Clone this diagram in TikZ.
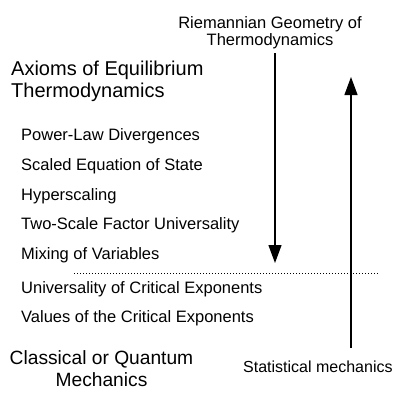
\documentclass[tikz,border=0pt]{standalone}
\usepackage{fontspec}
\setmainfont{Liberation Sans}
\usetikzlibrary{arrows.meta, positioning}
\tikzset{
  bigtext/.style={font=\fontsize{20}{22}\selectfont, inner sep=0pt},
  smalltext/.style={font=\fontsize{16.5}{17}\selectfont, inner sep=0pt, align=center},
  item/.style={font=\fontsize{16.5}{18}\selectfont, anchor=base west, inner sep=0pt},
  arr/.style={-{Triangle[length=18pt, width=13pt]}, line width=1.2pt},
  cut/.style={line width=0.8pt, dash pattern=on 1.4pt off 1.6pt},
}
\begin{document}
\begin{tikzpicture}[x=1pt, y=-1pt]
\useasboundingbox (0,0) rectangle (394,392);

% headings
\node[smalltext, anchor=base] (riem) at (270,45) {Riemannian Geometry of\\Thermodynamics};
\node[bigtext, anchor=base west, align=left] (axioms) at (11,97) {Axioms of Equilibrium\\Thermodynamics};

% list of results
\node[item] (pld) at (21,140) {Power-Law Divergences};
\node[item] (seos) at (21,170) {Scaled Equation of State};
\node[item] (hyp) at (21,200) {Hyperscaling};
\node[item] (tsfu) at (21,229.5) {Two-Scale Factor Universality};
\node[item] (mix) at (21,259) {Mixing of Variables};
\node[item] (uce) at (21,293) {Universality of Critical Exponents};
\node[item] (vce) at (21,322) {Values of the Critical Exponents};

% bottom labels
\node[bigtext, font=\fontsize{19.2}{22}\selectfont, anchor=base, align=center] (mech) at (101.5,386) {Classical or Quantum\\Mechanics};
\node[smalltext, font=\fontsize{16}{17}\selectfont, anchor=base west] (stat) at (243,372) {Statistical mechanics};

% arrows
\coordinate (dtop) at (275,53);
\coordinate (dtip) at (275,263);
\coordinate (ubot) at (351,348);
\coordinate (utip) at (351,77);
\draw[arr] (dtop) -- (dtip);
\draw[arr] (ubot) -- (utip);

% dividing line
\coordinate (cl) at (74,273);
\coordinate (cr) at (378,273);
\draw[cut] (cl) -- (cr);

\end{tikzpicture}
\end{document}
